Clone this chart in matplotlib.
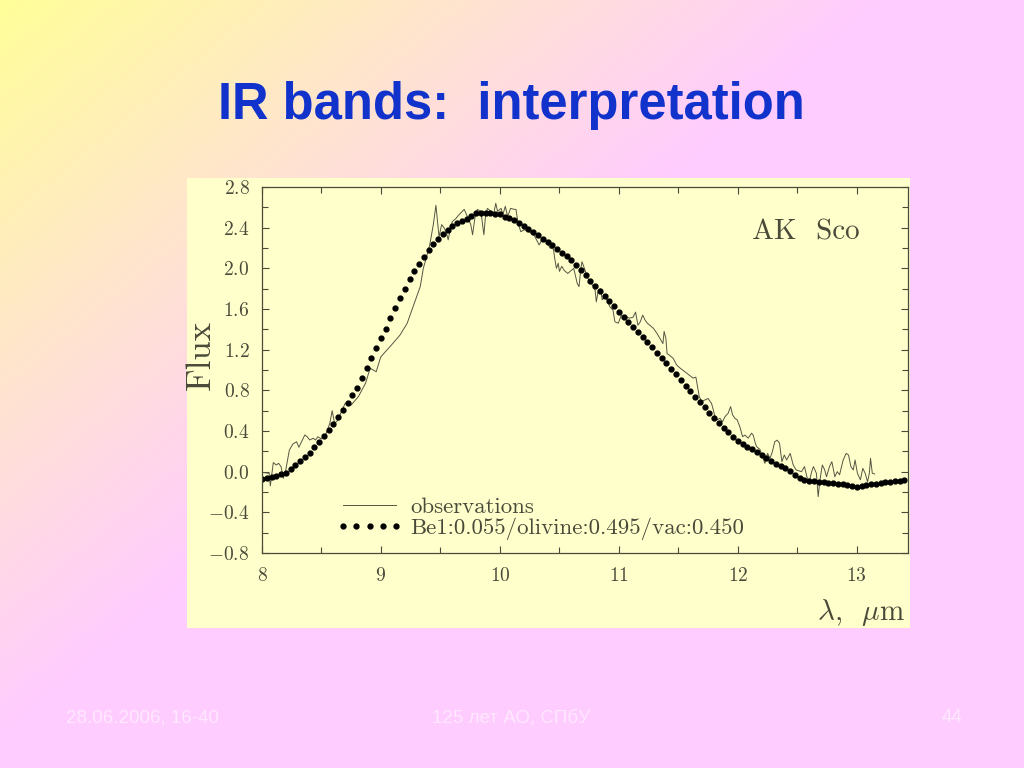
import numpy as np
import matplotlib
matplotlib.use("Agg")
import matplotlib.pyplot as plt
from matplotlib.patches import Rectangle
from matplotlib.ticker import MultipleLocator, FuncFormatter

# model fit (dots), wavelength in micron
model_lam = [8.00, 8.04, 8.08, 8.12, 8.16, 8.20, 8.24, 8.28, 8.32, 8.36,
             8.40, 8.44, 8.48, 8.52, 8.56, 8.60, 8.64, 8.68, 8.72, 8.76,
             8.80, 8.84, 8.88, 8.92, 8.96, 9.00, 9.04, 9.08, 9.12, 9.16,
             9.20, 9.24, 9.28, 9.32, 9.36, 9.40, 9.44, 9.48, 9.52, 9.56,
             9.60, 9.64, 9.68, 9.72, 9.76, 9.80, 9.84, 9.88, 9.92, 9.96,
             10.00, 10.04, 10.08, 10.12, 10.16, 10.20, 10.24, 10.28, 10.32, 10.36,
             10.40, 10.44, 10.48, 10.52, 10.56, 10.60, 10.64, 10.68, 10.72, 10.76,
             10.80, 10.84, 10.88, 10.92, 10.96, 11.00, 11.04, 11.08, 11.12, 11.16,
             11.20, 11.24, 11.28, 11.32, 11.36, 11.40, 11.44, 11.48, 11.52, 11.56,
             11.60, 11.64, 11.68, 11.72, 11.76, 11.80, 11.84, 11.88, 11.92, 11.96,
             12.00, 12.04, 12.08, 12.12, 12.16, 12.20, 12.24, 12.28, 12.32, 12.36,
             12.40, 12.44, 12.48, 12.52, 12.56, 12.60, 12.64, 12.68, 12.72, 12.76,
             12.80, 12.84, 12.88, 12.92, 12.96, 13.00, 13.04, 13.08, 13.12, 13.16,
             13.20, 13.24, 13.28, 13.32, 13.36, 13.40]
model_flux = [-0.075, -0.062, -0.052, -0.039, -0.026, -0.010, 0.030, 0.069, 0.102, 0.142,
              0.181, 0.240, 0.292, 0.354, 0.412, 0.468, 0.538, 0.607, 0.678, 0.751,
              0.823, 0.924, 1.020, 1.118, 1.216, 1.315, 1.406, 1.508, 1.607, 1.705,
              1.796, 1.892, 1.973, 2.045, 2.115, 2.185, 2.240, 2.290, 2.334, 2.380,
              2.419, 2.448, 2.468, 2.488, 2.514, 2.544, 2.547, 2.544, 2.541, 2.534,
              2.534, 2.507, 2.491, 2.472, 2.445, 2.413, 2.386, 2.357, 2.324, 2.291,
              2.261, 2.226, 2.190, 2.150, 2.118, 2.083, 2.033, 1.985, 1.931, 1.880,
              1.831, 1.777, 1.727, 1.675, 1.625, 1.575, 1.524, 1.476, 1.424, 1.373,
              1.324, 1.272, 1.222, 1.170, 1.120, 1.065, 1.012, 0.958, 0.899, 0.844,
              0.790, 0.735, 0.685, 0.635, 0.580, 0.528, 0.480, 0.434, 0.389, 0.342,
              0.299, 0.269, 0.246, 0.220, 0.189, 0.160, 0.130, 0.103, 0.078, 0.054,
              0.032, 0.006, -0.030, -0.060, -0.078, -0.089, -0.096, -0.100, -0.103, -0.107,
              -0.112, -0.119, -0.126, -0.132, -0.139, -0.148, -0.141, -0.127, -0.122, -0.119,
              -0.110, -0.103, -0.099, -0.093, -0.089, -0.085]

# observed spectrum (thin line)
obs_lam = [8.02, 8.06, 8.07, 8.095, 8.12, 8.14, 8.16, 8.18, 8.20,
           8.23, 8.26, 8.29, 8.31, 8.34, 8.36, 8.38, 8.40, 8.43, 8.45, 8.47, 8.50, 8.52, 8.54,
           8.57, 8.59, 8.61, 8.64, 8.67, 8.70, 8.75, 8.81, 8.84, 8.87, 8.90, 8.91, 8.935, 8.96, 8.99, 9.00,
           9.05, 9.10, 9.16, 9.22, 9.27, 9.33, 9.356, 9.38, 9.41, 9.44, 9.462,
           9.488, 9.51, 9.53, 9.55, 9.565, 9.585, 9.60, 9.63, 9.65, 9.70, 9.73, 9.755, 9.77, 9.79, 9.81, 9.84,
           9.865, 9.88, 9.895, 9.925, 9.95, 9.965, 9.98, 10.01, 10.025, 10.045, 10.065, 10.09, 10.12, 10.135, 10.15, 10.175,
           10.205, 10.23, 10.26, 10.29, 10.33, 10.36, 10.385, 10.40, 10.42, 10.45, 10.46, 10.475, 10.49, 10.50, 10.52, 10.54,
           10.57, 10.60, 10.62, 10.65, 10.665, 10.68, 10.69, 10.71, 10.74, 10.77, 10.80, 10.81, 10.825, 10.845, 10.86, 10.88, 10.90,
           10.925, 10.95, 10.966, 10.995, 11.02, 11.04, 11.065, 11.09, 11.12, 11.14, 11.16, 11.18, 11.20, 11.22, 11.24, 11.26,
           11.29, 11.32, 11.345, 11.37, 11.38, 11.395, 11.405, 11.42, 11.456, 11.485, 11.513, 11.569, 11.624, 11.647,
           11.675, 11.695, 11.723, 11.75, 11.779, 11.793, 11.807, 11.826, 11.849, 11.871, 11.891, 11.918, 11.939, 11.955, 11.975, 11.994, 12.017,
           12.04, 12.059, 12.087, 12.115, 12.129, 12.143, 12.157, 12.185, 12.213, 12.227, 12.25, 12.27, 12.29, 12.31, 12.33, 12.35, 12.37, 12.39, 12.41, 12.44,
           12.465, 12.49, 12.535, 12.56, 12.58, 12.60, 12.62, 12.635, 12.66, 12.675, 12.69, 12.71, 12.73, 12.745, 12.77, 12.79,
           12.815, 12.835, 12.855, 12.885, 12.91, 12.93, 12.95, 12.97, 12.985, 13.005, 13.03, 13.05, 13.07, 13.09, 13.105, 13.115, 13.13, 13.15]
obs_flux = [-0.01, -0.016, -0.14, 0.089, 0.066, 0.082, 0.05, -0.065, 0.017,
            0.213, 0.272, 0.295, 0.240, 0.312, 0.361, 0.344, 0.312, 0.328, 0.312, 0.344, 0.322, 0.344, 0.378,
            0.476, 0.60, 0.476, 0.508, 0.600, 0.673, 0.656, 0.738, 0.803, 0.869, 0.983, 1.017, 1.00, 0.983, 1.098, 1.131,
            1.197, 1.262, 1.344, 1.459, 1.622, 1.82, 2.00, 2.10, 2.23, 2.43, 2.62,
            2.31, 2.43, 2.40, 2.35, 2.28, 2.40, 2.46, 2.49, 2.52, 2.58, 2.50, 2.43, 2.33, 2.50, 2.58, 2.56,
            2.33, 2.53, 2.59, 2.56, 2.55, 2.64, 2.56, 2.59, 2.53, 2.61, 2.51, 2.59, 2.58, 2.58, 2.46, 2.36,
            2.38, 2.37, 2.35, 2.32, 2.23, 2.30, 2.27, 2.25, 2.20, 2.19, 2.10, 2.00, 2.05, 1.97, 2.02, 1.98,
            1.95, 1.98, 2.00, 1.85, 1.82, 2.00, 2.065, 2.00, 1.90, 1.85, 1.785, 1.67, 1.77, 1.80, 1.69, 1.72, 1.69,
            1.62, 1.59, 1.475, 1.46, 1.54, 1.51, 1.52, 1.51, 1.52, 1.57, 1.44, 1.475, 1.54, 1.49, 1.46, 1.44,
            1.41, 1.36, 1.31, 1.26, 1.38, 1.31, 1.16, 1.15, 1.115, 1.05, 1.02, 0.97, 0.92, 0.93,
            0.74, 0.69, 0.705, 0.72, 0.67, 0.61, 0.54, 0.51, 0.525, 0.49, 0.54, 0.574, 0.64, 0.56, 0.525, 0.51, 0.44,
            0.344, 0.36, 0.33, 0.378, 0.36, 0.295, 0.246, 0.22, 0.13, 0.082, 0.18, 0.13, 0.197, 0.295, 0.31, 0.28, 0.098, 0.164, 0.115, 0.18,
            0.066, 0.017, 0.0, 0.05, -0.05, -0.10, 0.0, 0.05, -0.016, -0.246, -0.08, 0.066, 0.017, -0.05, 0.05, 0.098,
            -0.05, 0.0, -0.03, 0.115, 0.18, 0.164, 0.05, 0.017, 0.115, -0.016, -0.08, 0.033, -0.016, -0.10, -0.016, 0.131, -0.016, -0.023]

model_label = "Be1:0.055/olivine:0.495/vac:0.450"
obs_label = "observations"

plt.rcParams['font.family'] = 'cmr10'
plt.rcParams['mathtext.fontset'] = 'cm'
plt.rcParams['axes.formatter.use_mathtext'] = True

ink = '#4a4a3a'

fig = plt.figure(figsize=(10.24, 7.68), dpi=100)

# slide background: yellow top-left fading into pink
bg = fig.add_axes([0, 0, 1, 1], zorder=-10)
yy, xx = np.mgrid[0:768, 0:1024]
t = np.clip((xx + 1.2 * yy) / 880.0, 0, 1)[..., None]
c0 = np.array([1.0, 1.0, 0.6])
c1 = np.array([1.0, 0.80, 1.0])
bg.imshow(c0 * (1 - t) + c1 * t, aspect='auto', extent=[0, 1, 0, 1])
bg.axis('off')

# light yellow plot panel
fig.patches.append(Rectangle((187 / 1024, 1 - 628 / 768), 723 / 1024, 450 / 768,
                             transform=fig.transFigure, facecolor='#ffffcc',
                             edgecolor='none', zorder=-5))

ax = fig.add_axes([262 / 1024, 1 - 553 / 768, 646 / 1024, 366 / 768])
ax.set_facecolor('none')
ax.plot(obs_lam, obs_flux, color='#555544', lw=0.7, label=obs_label)
ax.plot(model_lam, model_flux, 'o', color='black', ms=3.5, label=model_label)

ax.set_xlim(8.0, 13.43)
ax.set_ylim(-0.8, 2.8)
ax.xaxis.set_major_locator(MultipleLocator(1))
ax.xaxis.set_minor_locator(MultipleLocator(0.5))
ax.yaxis.set_major_locator(MultipleLocator(0.4))
ax.yaxis.set_minor_locator(MultipleLocator(0.2))
ax.xaxis.set_major_formatter(FuncFormatter(lambda v, p: f'${v:.0f}$'))
ax.yaxis.set_major_formatter(FuncFormatter(lambda v, p: f'${v:.1f}$'))
ax.tick_params(which='both', direction='in', top=True, right=True, colors=ink,
               labelsize=14, width=0.8)
ax.tick_params(which='major', length=5)
ax.tick_params(which='minor', length=4)
ax.tick_params(axis='y', pad=9)
ax.tick_params(axis='x', pad=10)
for s in ax.spines.values():
    s.set_color(ink)
    s.set_linewidth(0.9)

ax.legend(loc='lower left', bbox_to_anchor=(0.10, 0.01), frameon=False,
          numpoints=5, handlelength=2.95, handletextpad=0.3, labelspacing=0.02,
          fontsize=16.5, labelcolor=ink, borderaxespad=0)

ax.text(0.758, 0.877, 'AK  Sco', transform=ax.transAxes, fontsize=21,
        color=ink, ha='left', va='center')
fig.text(201 / 1024, 1 - 355 / 768, 'Flux', rotation=90, fontsize=25,
         color=ink, ha='center', va='center')
fig.text(905 / 1024, 1 - 613 / 768, r'$\lambda$,  $\mu$m', fontsize=21,
         color=ink, ha='right', va='center')

# slide title and footer
fig.text(511.5 / 1024, 1 - 119 / 768, 'IR bands:  interpretation',
         family='Liberation Sans', weight='bold', fontsize=36.5,
         color='#1133cc', ha='center', va='baseline')
foot = dict(family='Liberation Sans', fontsize=13.5, color='#ffe8ff', va='center')
fig.text(142 / 1024, 1 - 718 / 768, '28.06.2006, 16-40', ha='center', **foot)
fig.text(511 / 1024, 1 - 718 / 768, '125 лет АО, СПбУ', ha='center', **foot)
fig.text(952 / 1024, 1 - 718 / 768, '44', ha='center', **foot)

fig.savefig('out.png', dpi=100)
